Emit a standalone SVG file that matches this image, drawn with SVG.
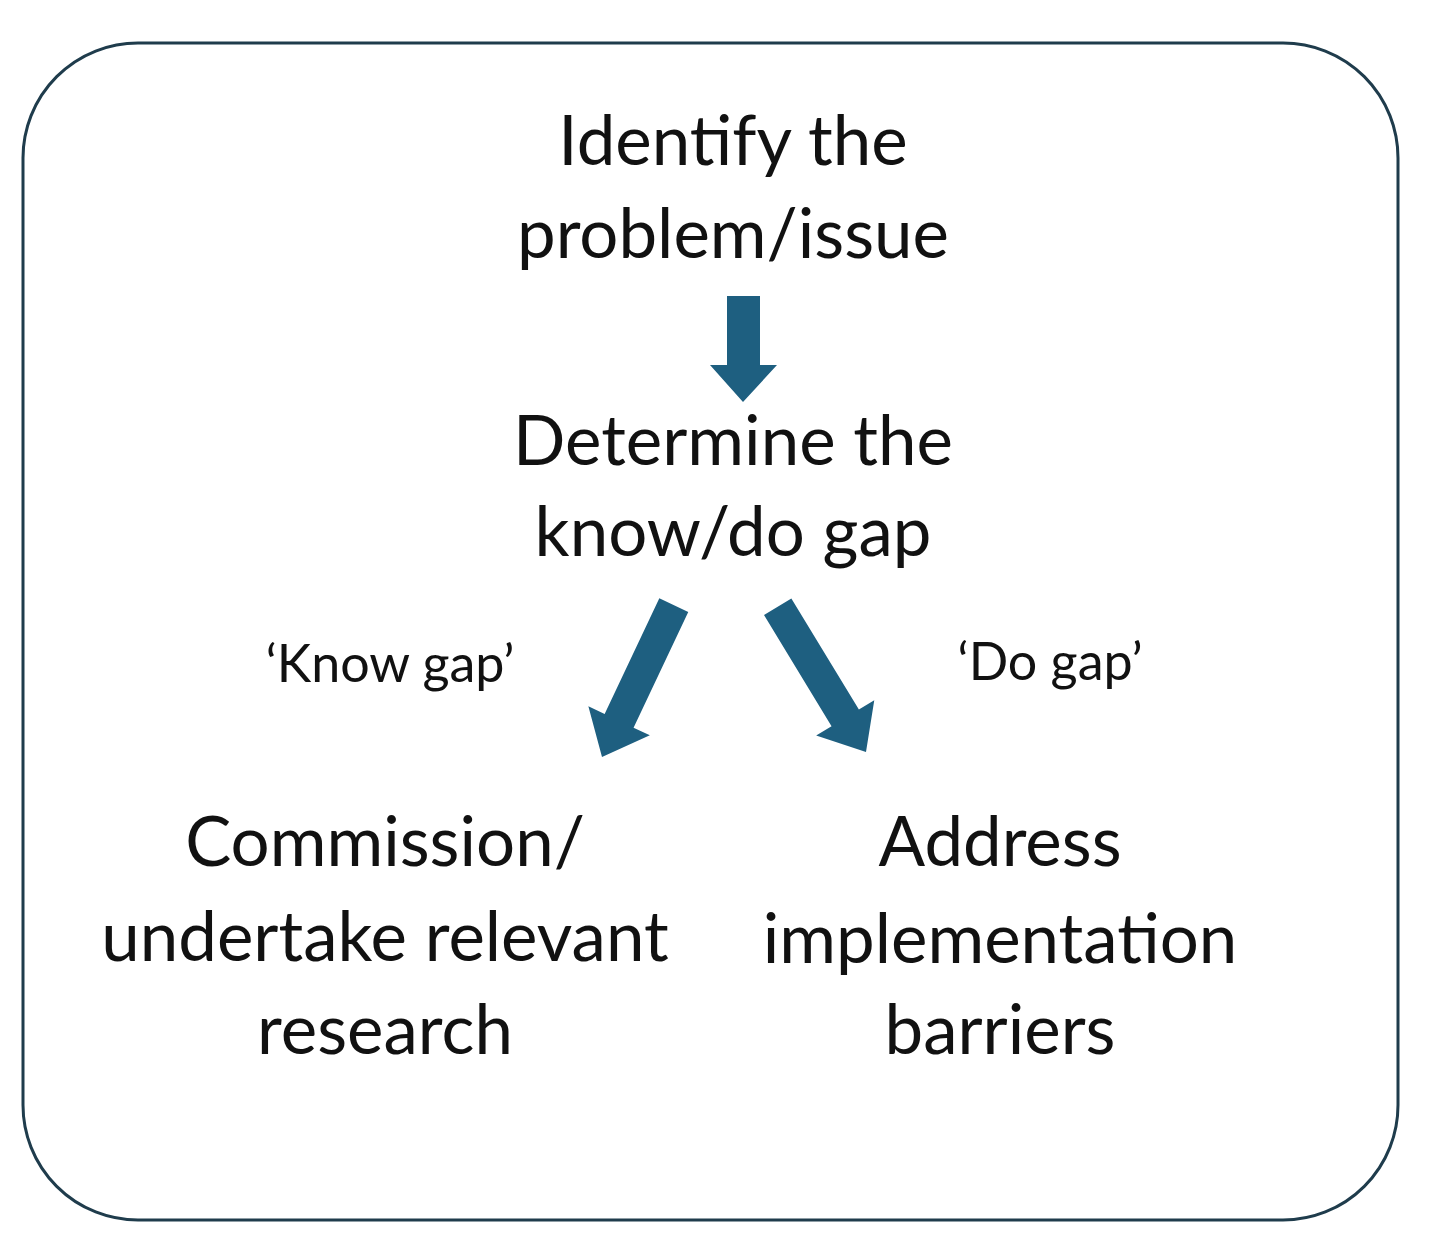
<svg xmlns="http://www.w3.org/2000/svg" width="1440" height="1256" viewBox="0 0 1440 1256">
<defs><style>
.t{font-family:Lato,"Noto Sans",sans-serif;font-size:69px;fill:#111;text-anchor:middle}
.l{font-family:Lato,"Noto Sans",sans-serif;font-size:52px;fill:#111;text-anchor:middle}
.a{fill:#1e5f80}
</style></defs>
<rect width="1440" height="1256" fill="#fff"/>
<rect x="23" y="43" width="1375" height="1177" rx="115" fill="none" stroke="#1f3c4c" stroke-width="3"/>
<g id="n1"><text class="t" x="733" y="165">Identify the</text><text class="t" x="733" y="258">problem/issue</text></g>
<g id="n2"><text class="t" x="733" y="465">Determine the</text><text class="t" x="733" y="556">know/do gap</text></g>
<g id="n3"><text class="t" x="385" y="866">Commission/</text><text class="t" x="385" y="961">undertake relevant</text><text class="t" x="385" y="1054">research</text></g>
<g id="n4"><text class="t" x="1000" y="866">Address</text><text class="t" x="1000" y="963">implementation</text><text class="t" x="1000" y="1054">barriers</text></g>
<g id="connectors">
<polygon class="a" points="727,296 760,296 760,365 777,365 743,402 710,365 727,365"/>
<g transform="translate(602,757) rotate(25.3)"><polygon class="a" points="-16,-168 16,-168 16,-40 34,-40 0,0 -34,-40 -16,-40"/></g>
<g transform="translate(866,752) rotate(-31.3)"><polygon class="a" points="-16,-170 16,-170 16,-40 34,-40 0,0 -34,-40 -16,-40"/></g>
<text class="l" x="390" y="682">‘Know gap’</text>
<text class="l" x="1050" y="680">‘Do gap’</text>
</g>
</svg>
